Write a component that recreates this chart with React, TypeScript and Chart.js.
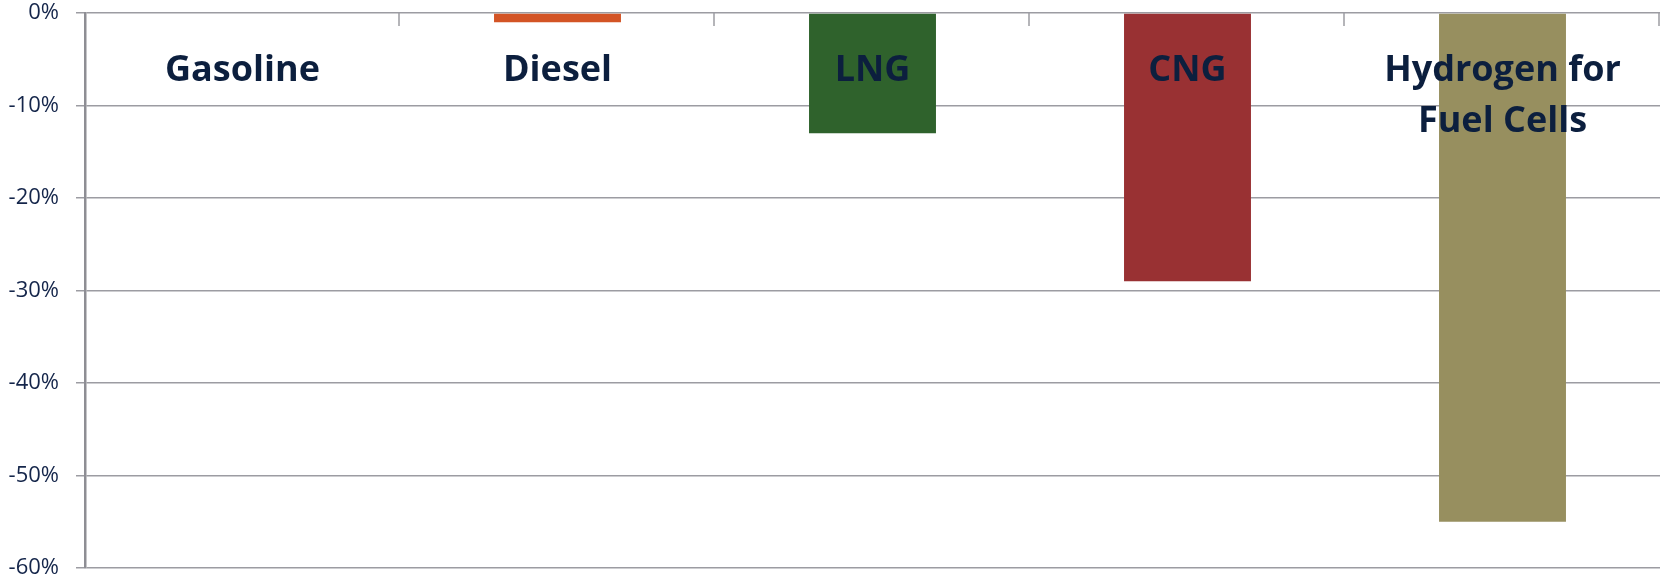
import React, { useEffect, useRef } from "react";
import { Chart, registerables } from "chart.js";

Chart.register(...registerables);

// Fuel categories (multi-line names are split into lines)
const categories: string[][] = [
  ["Gasoline"],
  ["Diesel"],
  ["LNG"],
  ["CNG"],
  ["Hydrogen for", "Fuel Cells"],
];

// Change relative to gasoline, in percent
const changeValues: number[] = [0, -1, -13, -29, -55];

const barColors: string[] = ["#4F6FA8", "#D35425", "#2F622C", "#993133", "#978F5F"];

const yTicks: number[] = [0, -10, -20, -30, -40, -50, -60];

const GRID = "#9C9CA2";
const TEXT = "#14254A";
const LABEL = "#0C1F3E";

// Category names drawn inside the plot near the zero line, plus small
// category separators hanging down from the top axis.
const categoryLabelPlugin = {
  id: "categoryLabels",
  beforeDatasetsDraw(chart: any) {
    const { ctx, chartArea } = chart;
    const n = categories.length;
    const step = (chartArea.right - chartArea.left) / n;
    ctx.save();
    ctx.strokeStyle = GRID;
    ctx.lineWidth = 1.5;
    for (let i = 1; i <= n; i++) {
      const px = Math.round(chartArea.left + i * step) - 1;
      ctx.beginPath();
      ctx.moveTo(px, chartArea.top);
      ctx.lineTo(px, chartArea.top + 13);
      ctx.stroke();
    }
    ctx.restore();
  },
  afterDatasetsDraw(chart: any) {
    const { ctx, chartArea, scales } = chart;
    const x = scales.x;
    ctx.save();
    ctx.font = "bold 36px 'Open Sans'";
    ctx.fillStyle = LABEL;
    ctx.textAlign = "center";
    ctx.textBaseline = "middle";
    categories.forEach((lines, i) => {
      const cx = x.getPixelForValue(i);
      lines.forEach((line, j) => {
        ctx.fillText(line, cx, chartArea.top + 58 + j * 51);
      });
    });
    ctx.restore();
  },
};

export default function App() {
  const canvasRef = useRef<HTMLCanvasElement | null>(null);

  useEffect(() => {
    document.body.style.margin = "0";
    const canvas = canvasRef.current;
    if (!canvas) return;
    const chart = new Chart(canvas, {
      type: "bar",
      data: {
        labels: categories.map((c) => c.join(" ")),
        datasets: [
          {
            data: changeValues,
            backgroundColor: barColors,
            borderWidth: 0,
            categoryPercentage: 1,
            barPercentage: 0.403,
          },
        ],
      },
      options: {
        animation: false,
        responsive: false,
        maintainAspectRatio: false,
        layout: { padding: { top: 0, right: 3, bottom: 0, left: 0 } },
        plugins: {
          legend: { display: false },
          tooltip: { enabled: false },
        },
        scales: {
          x: {
            display: false,
            offset: true,
          },
          y: {
            min: -60,
            max: 0,
            afterFit(scale: any) {
              scale.width = 85;
              scale.paddingTop = 13;
              scale.paddingBottom = 12;
            },
            afterBuildTicks(scale: any) {
              scale.ticks = yTicks.map((v) => ({ value: v }));
            },
            ticks: {
              stepSize: 10,
              padding: 17,
              color: TEXT,
              font: { family: "'Open Sans'", size: 22 },
              callback: (v: any) => `${v}%`,
            },
            grid: {
              color: GRID,
              lineWidth: 1.5,
              tickLength: 9,
              drawTicks: true,
            },
            border: { color: "#8E8E94", width: 2.5 },
          },
        },
      },
      plugins: [categoryLabelPlugin],
    });
    return () => chart.destroy();
  }, []);

  return (
    <div style={{ width: 1663, height: 580 }}>
      <canvas ref={canvasRef} width={1663} height={580} style={{ display: "block" }} />
    </div>
  );
}
